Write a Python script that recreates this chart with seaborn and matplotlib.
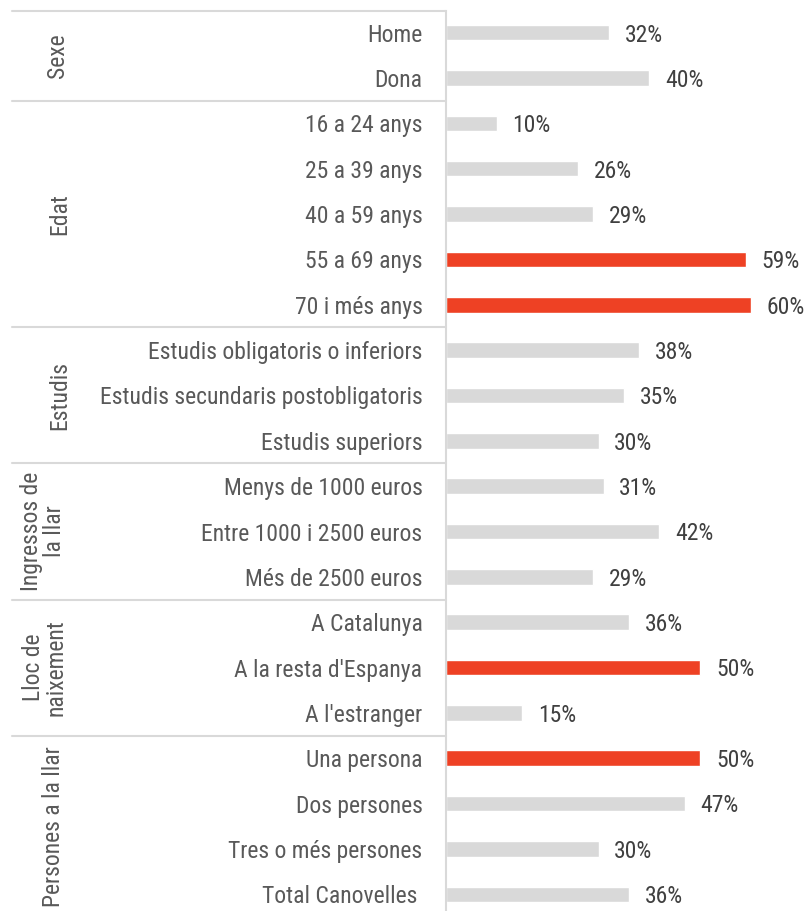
import matplotlib
matplotlib.use("Agg")
import matplotlib.pyplot as plt
from matplotlib import font_manager
import matplotlib.transforms as mtransforms
import seaborn as sns
import pandas as pd

# Survey results by respondent profile
categories = [
    "Home", "Dona",
    "16 a 24 anys", "25 a 39 anys", "40 a 59 anys", "55 a 69 anys", "70 i més anys",
    "Estudis obligatoris o inferiors", "Estudis secundaris postobligatoris", "Estudis superiors",
    "Menys de 1000 euros", "Entre 1000 i 2500 euros", "Més de 2500 euros",
    "A Catalunya", "A la resta d'Espanya", "A l'estranger",
    "Una persona", "Dos persones", "Tres o més persones", "Total Canovelles ",
]
values = [32, 40, 10, 26, 29, 59, 60, 38, 35, 30, 31, 42, 29, 36, 50, 15, 50, 47, 30, 36]
highlight = [False, False, False, False, False, True, True, False, False, False,
             False, False, False, False, True, False, True, False, False, False]

group_names = ["Sexe", "Edat", "Estudis", "Ingressos de\nla llar", "Lloc de\nnaixement",
               "Persones a la llar"]
group_sizes = [2, 5, 3, 3, 3, 4]
group_x_px = [58, 60, 60, 43, 45, 54]

GREY = "#d9d9d9"
RED = "#ee4124"
LINE = "#d9d9d9"
LABEL_COLOR = "#595959"
VALUE_COLOR = "#404040"
FS = 17

available = {f.name for f in font_manager.fontManager.ttflist}
family = next((f for f in ["Liberation Sans Narrow", "Roboto Condensed", "Liberation Sans",
                           "DejaVu Sans"] if f in available), "DejaVu Sans")

sns.set_theme(style="white")
plt.rcParams["font.family"] = [family, "DejaVu Sans"]

df = pd.DataFrame({"categoria": categories, "valor": values,
                   "destacat": ["si" if h else "no" for h in highlight]})

fig = plt.figure(figsize=(8.12, 9.11), dpi=100)
ax = fig.add_axes([446 / 812, 0.0, 1 - 446 / 812, 1 - 11 / 911])

sns.barplot(data=df, y="categoria", x="valor", hue="destacat",
            palette={"no": GREY, "si": RED}, dodge=False, width=0.34,
            legend=False, ax=ax, orient="h", saturation=1)

n = len(categories)
ax.set_xlim(0, 72)
ax.set_ylim(n - 0.63, -0.48)
ax.set_xlabel("")
ax.set_ylabel("")
ax.set_xticks([])
ax.tick_params(axis="y", length=0, pad=17, labelsize=FS, labelcolor=LABEL_COLOR)

for side in ["top", "right", "bottom"]:
    ax.spines[side].set_visible(False)
ax.spines["left"].set_color(LINE)
ax.spines["left"].set_linewidth(1.5)

# value labels at bar ends
for i, v in enumerate(values):
    ax.text(v + 3.1, i + 0.05, f"{v}%", va="center", ha="left",
            fontsize=FS, color=VALUE_COLOR)

# group separators and rotated group names
trans = mtransforms.blended_transform_factory(fig.transFigure, ax.transData)
x0 = 12 / 812
x1 = 446 / 812
start = 0
ax.plot([x0, x1], [-0.48, -0.48], transform=trans, color=LINE, lw=1.5, clip_on=False)
for name, size, gx in zip(group_names, group_sizes, group_x_px):
    end = start + size
    center = (start + end - 1) / 2
    ax.text(gx / 812, center, name, transform=trans, rotation=90, ha="center",
            va="center", fontsize=FS, color=LABEL_COLOR, linespacing=1.0,
            multialignment="center")
    if end < n - 1:
        ax.plot([x0, x1], [end - 0.5, end - 0.5], transform=trans, color=LINE, lw=1.5,
                clip_on=False)
    start = end

fig.savefig("out.png", dpi=100)
